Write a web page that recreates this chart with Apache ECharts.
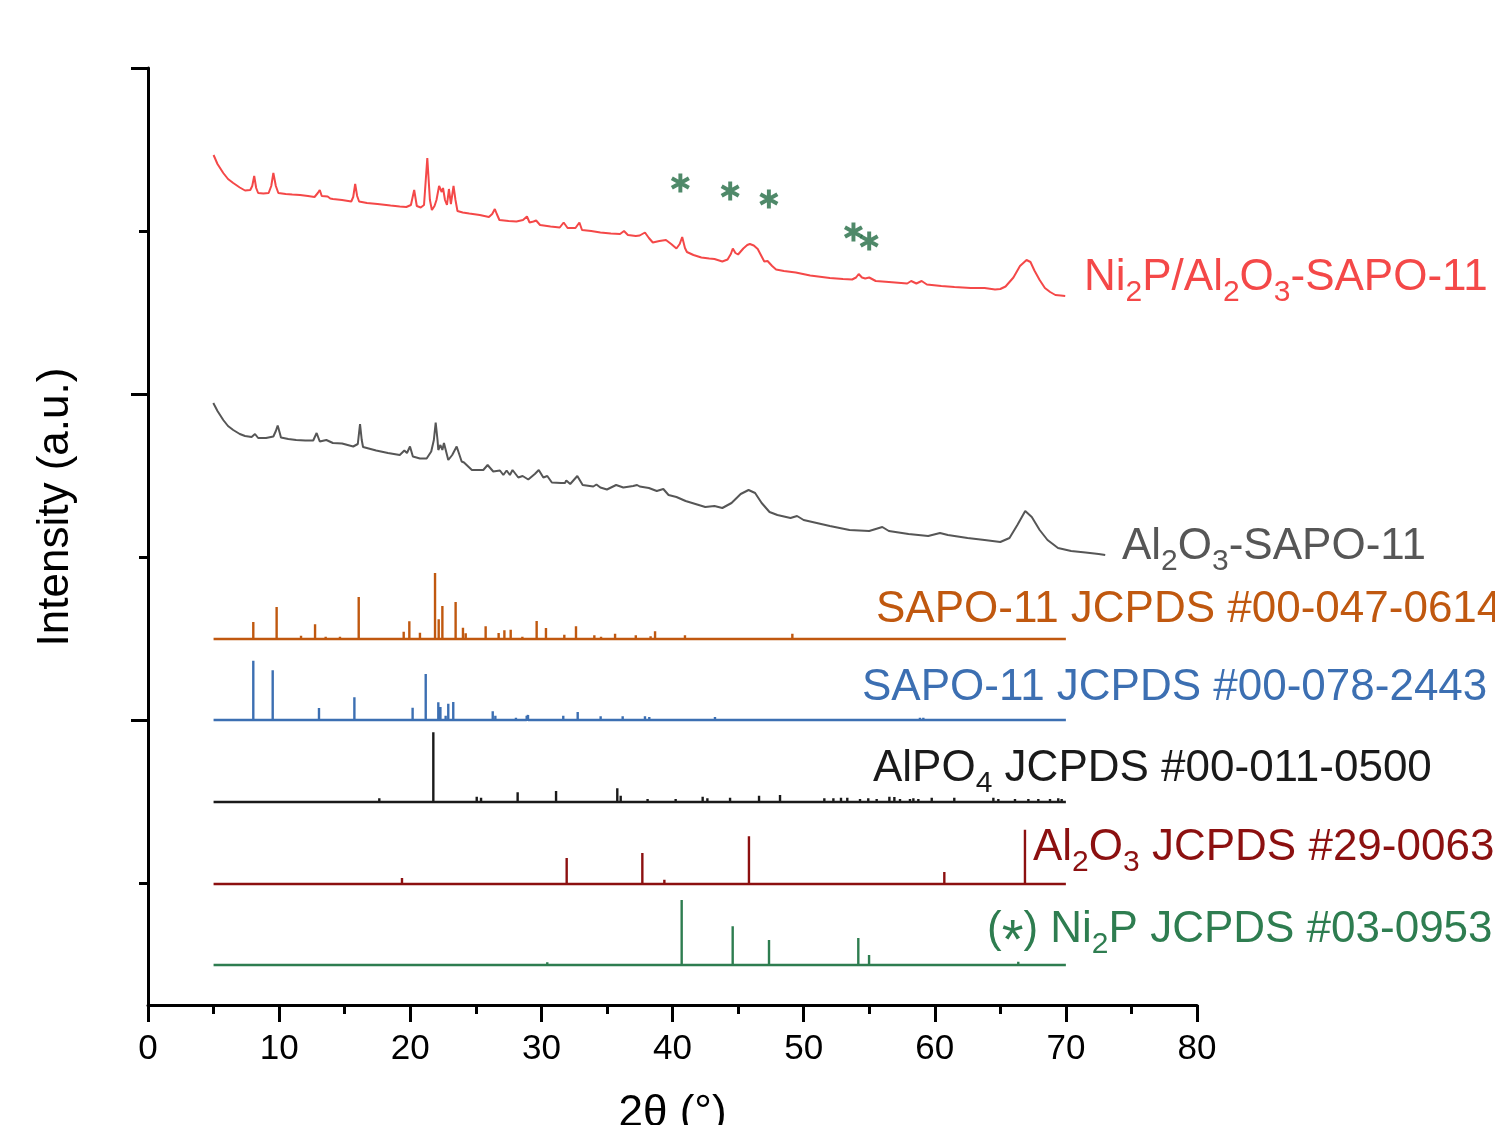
<!DOCTYPE html>
<html>
<head>
<meta charset="utf-8">
<title>XRD patterns</title>
<script src="https://cdn.jsdelivr.net/npm/echarts@6/dist/echarts.min.js"></script>
<style>
html, body { margin: 0; padding: 0; background: #fff; }
#chart { width: 1495px; height: 1125px; }
</style>
</head>
<body>
<div id="chart"></div>
<script>
// axis ticks
const xTicks = [0, 10, 20, 30, 40, 50, 60, 70, 80]
const yMajorTicks = [285, 611, 937]
const yMinorTicks = [122, 448, 774]

// measured patterns [2θ, intensity a.u.]
const niPAlSapo = [
  [5.0, 850], [5.3, 841], [5.74, 832], [6.1, 826], [6.5, 822], [7.0, 817.5], [7.4, 814.5], [7.8, 815],
  [7.95, 819], [8.1, 829], [8.25, 817], [8.4, 812], [8.8, 811.5], [9.2, 812], [9.4, 819], [9.56, 832],
  [9.75, 819], [9.94, 812], [10.5, 811], [11.0, 810.5], [11.6, 810], [12.2, 809], [12.7, 808], [12.95, 812],
  [13.1, 815], [13.25, 809], [13.4, 807], [13.7, 808.5], [13.9, 806.5], [14.1, 806], [14.8, 805], [15.5, 803.5],
  [15.65, 808], [15.8, 821], [15.95, 809], [16.1, 803.5], [16.7, 802], [17.5, 801], [18.5, 799.5], [19.2, 798.5],
  [19.7, 798], [20.05, 800], [20.3, 815], [20.5, 799], [20.8, 797.5], [21.05, 800], [21.3, 847], [21.5, 805],
  [21.65, 795], [21.85, 799], [22.0, 805], [22.2, 819], [22.4, 813], [22.5, 817], [22.65, 805], [22.8, 800],
  [22.95, 816], [23.1, 801], [23.3, 819], [23.45, 805], [23.6, 794], [24.0, 792.5], [24.5, 791.5], [25.3, 790],
  [26.0, 788], [26.25, 791], [26.45, 796], [26.6, 791], [26.8, 785], [27.5, 784], [28.1, 783.5], [28.6, 785],
  [28.9, 788.5], [29.1, 782.5], [29.4, 783.5], [29.6, 784.5], [29.9, 780], [30.7, 778.5], [31.4, 777.5], [31.7, 782.5],
  [32.0, 777], [32.6, 777], [32.9, 782.5], [33.1, 775], [33.8, 774], [34.5, 772.5], [35.3, 771.5], [36.0, 771],
  [36.3, 774], [36.6, 770], [37.2, 769], [37.5, 769.5], [37.9, 772.5], [38.2, 767], [38.5, 762.5], [39.0, 764],
  [39.5, 765], [39.9, 761], [40.3, 756.5], [40.55, 761], [40.74, 768], [40.95, 757], [41.1, 753], [41.6, 750],
  [42.2, 747.5], [42.8, 746.5], [43.2, 746], [43.8, 743.5], [44.2, 745.5], [44.45, 751], [44.6, 756.5], [44.8, 752],
  [45.0, 750.5], [45.4, 756.5], [45.7, 760], [45.9, 761], [46.2, 759.5], [46.5, 756], [47.0, 743.5], [47.25, 744],
  [47.4, 745], [47.6, 739], [47.9, 735.5], [48.5, 734], [49.4, 732.5], [50.5, 729.5], [52.0, 727], [53.0, 726],
  [53.7, 725.5], [54.0, 727.5], [54.2, 731], [54.45, 727.5], [54.7, 726.5], [55.0, 727.5], [55.5, 724], [56.5, 723],
  [57.9, 721.5], [58.2, 724], [58.6, 721.5], [59.0, 724], [59.4, 720.5], [60.5, 719], [61.5, 718], [62.75, 717],
  [63.8, 717], [64.6, 715.5], [65.0, 716], [65.4, 718.5], [66.0, 727.5], [66.5, 739], [67.0, 745], [67.3, 743],
  [67.6, 734.5], [68.0, 725], [68.4, 717], [68.8, 713], [69.2, 710], [69.6, 709.5], [69.95, 709]
]

const alSapo = [
  [4.98, 602], [5.3, 594], [5.74, 585], [6.1, 579], [6.5, 575], [7.0, 571], [7.4, 569], [7.9, 568],
  [8.16, 571], [8.4, 567], [9.0, 567], [9.56, 568.5], [9.75, 574], [9.89, 579.5], [10.05, 572], [10.14, 567.5],
  [10.7, 566], [11.3, 565], [12.0, 564.5], [12.6, 564.5], [12.86, 572], [13.1, 563.5], [13.6, 565], [14.1, 562],
  [14.8, 561.5], [15.65, 558.5], [16.0, 561], [16.17, 581], [16.3, 565], [16.4, 558], [17.4, 554.5], [18.3, 552],
  [19.2, 550], [19.55, 554.5], [19.75, 552], [19.98, 558.5], [20.2, 548.5], [20.74, 546.5], [21.25, 546.5], [21.6, 553.5],
  [21.8, 565], [21.94, 582.5], [22.08, 565], [22.14, 555], [22.3, 560], [22.45, 555], [22.57, 562], [22.9, 545],
  [23.2, 550], [23.54, 558.5], [23.92, 543.5], [24.1, 542.5], [24.3, 540], [24.7, 535], [25.57, 535], [25.9, 540],
  [26.33, 533.5], [26.84, 534.5], [27.1, 530], [27.35, 534.5], [27.6, 530], [27.8, 535], [28.24, 527.5], [28.57, 529],
  [29.0, 525.5], [29.5, 531], [29.8, 535], [30.15, 527.5], [30.45, 529], [30.8, 522.5], [31.5, 522], [31.8, 522],
  [31.9, 524.5], [32.2, 521], [32.74, 529], [33.15, 520], [33.96, 518.5], [34.2, 520.5], [34.5, 517.5], [35.0, 515.5],
  [35.7, 520], [36.25, 517.5], [37.0, 519], [37.3, 520], [37.5, 518.5], [38.2, 517], [38.8, 514], [39.3, 516],
  [39.7, 510], [40.3, 508], [41.0, 504], [42.0, 500], [42.5, 498], [43.2, 499], [43.8, 497], [44.5, 502],
  [45.2, 511], [45.8, 515], [46.3, 512], [46.8, 502], [47.4, 493], [48.0, 490], [49.0, 487], [49.5, 489],
  [50.0, 485], [51.0, 482], [52.0, 479], [53.5, 475], [55.0, 474], [56.0, 478], [56.5, 474], [58.0, 471],
  [59.5, 469], [60.4, 472], [61.0, 470], [62.5, 467], [63.8, 465], [65.0, 463], [65.7, 467], [66.3, 480],
  [66.9, 494], [67.4, 488], [68.0, 475], [68.6, 465], [69.4, 457], [70.4, 454], [71.5, 452.5], [72.5, 451],
  [73.0, 450]
]

// reference cards [2θ, relative height]
const sapo0614 = [
  [8.03, 17], [9.81, 32], [11.67, 3.3], [12.74, 14.7], [13.55, 2.3], [14.64, 2.3], [16.07, 42], [17.59, 2],
  [19.5, 7.3], [19.93, 17.7], [20.74, 6.3], [21.89, 66], [22.17, 19.7], [22.45, 33], [23.46, 37], [24.02, 11.3],
  [24.23, 5.7], [25.75, 12.7], [26.74, 6], [27.18, 8.7], [27.66, 9.3], [28.55, 2.3], [29.64, 18], [30.35, 11],
  [31.75, 4.3], [32.64, 12.7], [34.04, 3.7], [34.55, 2.3], [35.62, 5.3], [37.2, 3.7], [38.33, 2.7], [38.67, 7.7],
  [40.95, 3.7], [43.5, 2], [44.59, 2], [45.35, 1.7], [49.14, 5.3], [53.59, 1.7], [54.55, 1]
]
const sapo2443 = [
  [8.03, 59.3], [9.51, 49.7], [13.04, 12], [15.74, 22.7], [16.17, 1], [19.17, 1], [20.18, 12.3], [21.18, 46],
  [22.14, 17.7], [22.3, 13], [22.7, 4.3], [22.9, 16.3], [23.28, 18], [24.35, 1.7], [24.99, 1.3], [26.29, 8.7],
  [26.49, 4.3], [28.06, 2.3], [28.88, 4.3], [28.98, 5], [29.46, 2], [31.67, 4.3], [32.77, 8], [34.01, 2],
  [34.52, 3.7], [36.2, 3.7], [37.9, 3.7], [38.23, 3], [39.43, 1.7], [41.84, 1.3], [43.24, 3], [44.64, 1.7],
  [45.4, 1.7], [47.44, 1.3], [51.12, 1.3], [55.06, 1.3], [56.33, 1.3], [57.86, 1.7], [58.87, 2.3], [59.13, 2.3]
]
const alpo4 = [
  [17.64, 3.7], [21.76, 69.7], [25.07, 5.3], [25.4, 4.3], [28.19, 9.7], [31.12, 11], [35.79, 13.7], [36.05, 6.3],
  [38.1, 3], [40.24, 3], [42.3, 5.3], [42.66, 3.7], [44.39, 4.3], [46.6, 6.3], [48.2, 7], [51.58, 3.7],
  [52.27, 3.7], [52.85, 4.3], [53.33, 4.3], [54.3, 3], [54.93, 3.7], [55.57, 3], [56.54, 5.3], [56.92, 5],
  [57.35, 3], [58.11, 3], [58.37, 3.7], [58.75, 3], [59.77, 4.3], [61.49, 4.3], [64.47, 4.3], [64.85, 3],
  [66.12, 3], [67.14, 3], [67.9, 3], [68.79, 3], [69.42, 3.7], [69.68, 3]
]
const al2o3 = [
  [19.37, 6], [31.93, 26], [37.7, 31], [39.38, 4.3], [45.83, 47.7], [60.73, 12], [66.88, 54.3]
]
const ni2p = [
  [17.44, 1.3], [26.29, 1], [30.45, 2.7], [31.75, 2], [35.33, 2], [40.7, 65], [44.59, 38.7], [47.36, 25],
  [54.17, 27], [54.99, 10], [63.4, 1], [66.37, 3.3]
]
// offsets of the card baselines: 0614, 2443, AlPO4, Al2O3, Ni2P
const cardBase = [366, 285, 203, 121, 40]
const cardRange = [5, 70]

// Ni2P reflections marked in the sample pattern
const ni2pMarks = [[40.6, 822], [44.4, 814], [47.35, 806], [53.8, 773], [55.0, 764]]

const FONT = '"Liberation Sans", Arial, Helvetica, sans-serif'
const C_RED = '#f44848'
const C_GRAY = '#565656'
const C_ORANGE = '#c0580f'
const C_BLUE = '#3c6fb2'
const C_BLACK = '#1a1a1a'
const C_DRED = '#8c1010'
const C_GREEN = '#2e7d50'
const C_STAR = '#236b43'

const STAR = 'path://M-2,-10L2,-10L2,10L-2,10Z' +
  'M7.66,6.73L-9.66,-3.27L-7.66,-6.73L9.66,3.27Z' +
  'M9.66,-3.27L-7.66,6.73L-9.66,3.27L7.66,-6.73Z'

function stickData (peaks, base) {
  const out = [[cardRange[0], base]]
  peaks.forEach(function (p) {
    out.push([p[0], base], [p[0], base + p[1]], [p[0], base])
  })
  out.push([cardRange[1], base])
  return out
}

function lineSeries (name, data, color, width) {
  return {
    name: name,
    type: 'line',
    data: data,
    symbol: 'none',
    showSymbol: false,
    silent: true,
    lineStyle: { color: color, width: width }
  }
}

function label (x, y, color, text) {
  return {
    type: 'text',
    x: x,
    y: y,
    silent: true,
    style: {
      text: text,
      fill: color,
      font: '44px ' + FONT,
      textAlign: 'left',
      textVerticalAlign: 'middle',
      rich: {
        n: { fill: color, fontSize: 44, fontFamily: FONT, lineHeight: 56 },
        s: { fill: color, fontSize: 30, fontFamily: FONT, lineHeight: 26, height: 26, verticalAlign: 'bottom' },
        a: { fill: color, fontSize: 56, fontFamily: FONT, lineHeight: 31, height: 31, verticalAlign: 'bottom' }
      }
    }
  }
}

const chart = echarts.init(document.getElementById('chart'))

const option = {
  animation: false,
  backgroundColor: '#fff',
  grid: { left: 148, right: 298, top: 68, bottom: 120, containLabel: false, outerBoundsMode: 'none' },
  xAxis: {
    type: 'value',
    min: xTicks[0],
    max: xTicks[xTicks.length - 1],
    interval: xTicks[1] - xTicks[0],
    name: '2θ (°)',
    nameLocation: 'middle',
    nameGap: 87,
    nameTextStyle: { color: '#000', fontSize: 44, fontFamily: FONT },
    axisLine: { show: true, onZero: false, lineStyle: { color: '#000', width: 3 } },
    axisTick: { show: true, length: 17, lineStyle: { color: '#000', width: 3 } },
    minorTick: { show: true, splitNumber: 2, length: 9, lineStyle: { color: '#000', width: 3 } },
    axisLabel: { color: '#000', fontSize: 35, fontFamily: FONT, margin: 27 },
    splitLine: { show: false }
  },
  yAxis: [
    {
      type: 'value',
      min: 0,
      max: yMajorTicks[yMajorTicks.length - 1],
      position: 'left',
      axisLine: { show: true, onZero: false, lineStyle: { color: '#000', width: 3 } },
      axisTick: { show: true, length: 17, customValues: yMajorTicks, lineStyle: { color: '#000', width: 3 } },
      axisLabel: { show: false },
      splitLine: { show: false }
    },
    {
      type: 'value',
      min: 0,
      max: yMajorTicks[yMajorTicks.length - 1],
      position: 'left',
      axisLine: { show: false },
      axisTick: { show: true, length: 9, customValues: yMinorTicks, lineStyle: { color: '#000', width: 3 } },
      axisLabel: { show: false },
      splitLine: { show: false }
    }
  ],
  graphic: [
    {
      type: 'text',
      x: 56,
      y: 507,
      rotation: Math.PI / 2,
      silent: true,
      style: {
        text: 'Intensity (a.u.)',
        fill: '#000',
        font: '44px ' + FONT,
        textAlign: 'center',
        textVerticalAlign: 'middle'
      }
    },
    label(1084, 278, C_RED, '{n|Ni}{s|2}{n|P/Al}{s|2}{n|O}{s|3}{n|-SAPO-11}'),
    label(1122, 547, C_GRAY, '{n|Al}{s|2}{n|O}{s|3}{n|-SAPO-11}'),
    label(876, 610, C_ORANGE, '{n|SAPO-11 JCPDS #00-047-0614}'),
    label(862, 688, C_BLUE, '{n|SAPO-11 JCPDS #00-078-2443}'),
    label(873, 769, C_BLACK, '{n|AlPO}{s|4}{n| JCPDS #00-011-0500}'),
    label(1033, 848, C_DRED, '{n|Al}{s|2}{n|O}{s|3}{n| JCPDS #29-0063}'),
    label(987, 930, C_GREEN, '{n|(}{a|*}{n|) Ni}{s|2}{n|P JCPDS #03-0953}')
  ],
  series: [
    lineSeries('Ni2P/Al2O3-SAPO-11', niPAlSapo, C_RED, 2),
    lineSeries('Al2O3-SAPO-11', alSapo, C_GRAY, 2),
    lineSeries('SAPO-11 JCPDS #00-047-0614', stickData(sapo0614, cardBase[0]), C_ORANGE, 2.4),
    lineSeries('SAPO-11 JCPDS #00-078-2443', stickData(sapo2443, cardBase[1]), C_BLUE, 2.4),
    lineSeries('AlPO4 JCPDS #00-011-0500', stickData(alpo4, cardBase[2]), C_BLACK, 2.4),
    lineSeries('Al2O3 JCPDS #29-0063', stickData(al2o3, cardBase[3]), C_DRED, 2.4),
    lineSeries('Ni2P JCPDS #03-0953', stickData(ni2p, cardBase[4]), C_GREEN, 2.4),
    {
      name: 'Ni2P marks',
      type: 'scatter',
      data: ni2pMarks,
      symbol: STAR,
      symbolSize: [19, 19],
      silent: true,
      itemStyle: { color: C_STAR }
    }
  ]
}

chart.setOption(option)
window.addEventListener('resize', function () { chart.resize() })
</script>
</body>
</html>
